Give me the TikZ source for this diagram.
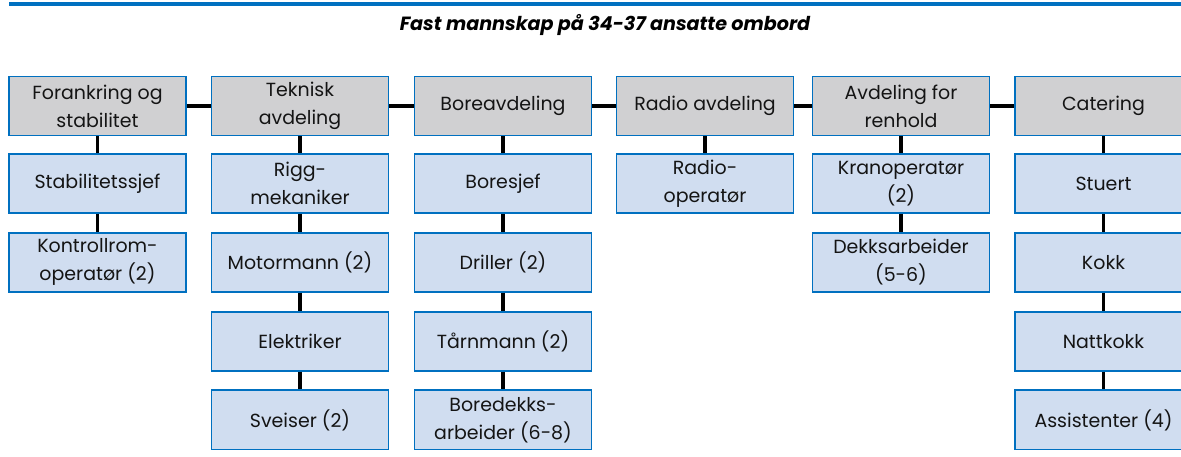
\documentclass[tikz,border=0pt]{standalone}
\usepackage{fontspec}
\setmainfont{Poppins}
\usetikzlibrary{positioning}

\definecolor{rigblue}{HTML}{0070C0}
\definecolor{headgray}{HTML}{D0D0D2}
\definecolor{staffblue}{HTML}{D0DDF0}
\definecolor{textdark}{HTML}{141414}

\tikzset{
    basebox/.style={draw=rigblue,line width=1.3pt,minimum width=4.425cm,minimum height=1.475cm,
        inner sep=1pt,align=center,text=textdark,font=\fontsize{13.5pt}{20pt}\selectfont},
    headbox/.style={basebox,fill=headgray},
    staffbox/.style={basebox,fill=staffblue},
    link/.style={line width=2.6pt,black},
}

\begin{document}
\begin{tikzpicture}[x=0.025cm,y=-0.025cm]
    \pgfmathsetmacro{\headrow}{106}
    \pgfmathsetmacro{\rowpitch}{78.8}
    \pgfmathsetmacro{\firstrow}{183.5}
    \useasboundingbox (0,0) rectangle (1181,456);
    \draw[rigblue,line width=2.4pt] (9,4) -- (1181,4);
    \node[font=\fontsize{13.6pt}{16pt}\selectfont\bfseries\itshape,text=black] (title) at (605,25)
        {Fast mannskap på 34-37 ansatte ombord};
    % avdelinger
    \node[headbox] (forank) at (97.5,\headrow) {Forankring og\\stabilitet};
    \node[headbox] (teknisk) at (300,\headrow) {Teknisk\\avdeling};
    \node[headbox] (bore) at (503,\headrow) {Boreavdeling};
    \node[headbox] (radio) at (705,\headrow) {Radio avdeling};
    \node[headbox] (renhold) at (901,\headrow) {Avdeling for\\renhold};
    \node[headbox] (catering) at (1103.5,\headrow) {Catering};
    \foreach \a/\b in {forank/teknisk,teknisk/bore,bore/radio,radio/renhold,renhold/catering}
        \draw[link] (\a.east) -- (\b.west);
    % stillinger, en kolonne om gangen
    \foreach \col/\x/\list in {
        forank/97.5/{Stabilitetssjef,Kontrollrom-\\operatør (2)},
        teknisk/300/{Rigg-\\mekaniker,Motormann (2),Elektriker,Sveiser (2)},
        bore/503/{Boresjef,Driller (2),Tårnmann (2),Boredekks-\\arbeider (6-8)},
        radio/705/{Radio-\\operatør},
        renhold/901/{Kranoperatør\\(2),Dekksarbeider\\(5-6)},
        catering/1103.5/{Stuert,Kokk,Nattkokk,Assistenter (4)}}
    {
        \foreach \txt [count=\i, remember=\i as \prev (initially 0)] in \list {
            \pgfmathsetmacro{\y}{\firstrow+(\i-1)*\rowpitch}
            \node[staffbox] (\col-\i) at (\x,\y) {\txt};
            \ifnum\prev=0
                \draw[link] (\col.south) -- (\col-\i.north);
            \else
                \draw[link] (\col-\prev.south) -- (\col-\i.north);
            \fi
        }
    }
\end{tikzpicture}
\end{document}
